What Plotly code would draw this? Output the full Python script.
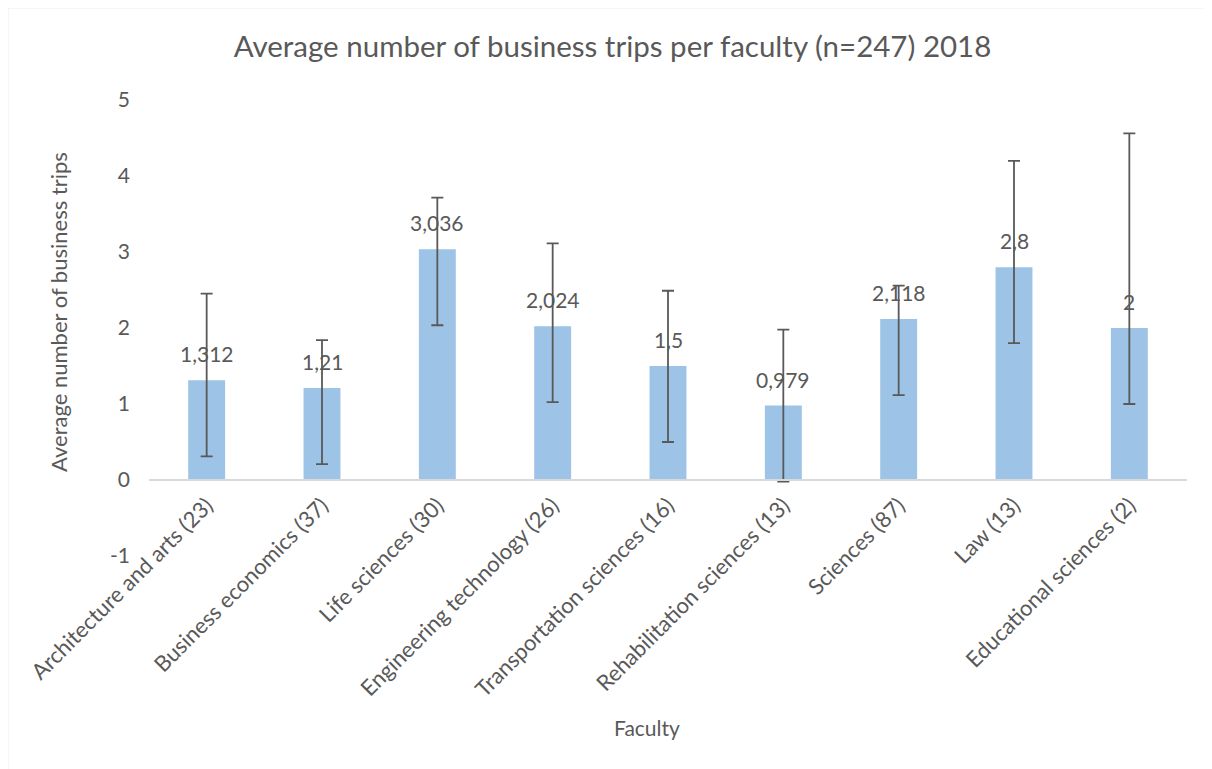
import plotly.graph_objects as go

categories = ["Architecture and arts (23)", "Business economics (37)", "Life sciences (30)",
              "Engineering technology (26)", "Transportation sciences (16)",
              "Rehabilitation sciences (13)", "Sciences (87)", "Law (13)", "Educational sciences (2)"]
averages = [1.312, 1.21, 3.036, 2.024, 1.5, 0.979, 2.118, 2.8, 2.0]
err_plus = [1.14, 0.63, 0.68, 1.09, 0.99, 1.0, 0.44, 1.4, 2.56]
err_minus = [1.0, 1.0, 1.0, 1.0, 1.0, 1.0, 1.0, 1.0, 1.0]
y_ticks = [-1, 0, 1, 2, 3, 4, 5]

labels = [("%g" % v).replace(".", ",") for v in averages]

TXT = "#595959"
FONT = "Lato"

W, H = 1212, 769
OFF = 8  # page body margin
L, R, T, B = 149 - OFF, 1187 - OFF, 100 - OFF, 556 - OFF  # plot area in figure pixels
pw, ph = R - L, B - T

def px(x):
    return (x - OFF - L) / pw

def py(y):
    return (B - (y - OFF)) / ph

fig = go.Figure()
fig.add_trace(go.Bar(
    x=categories, y=averages,
    marker=dict(color="#9DC3E6", line=dict(width=0)),
    error_y=dict(type="data", symmetric=False, array=err_plus, arrayminus=err_minus,
                 color="#595959", thickness=1.8, width=6),
    showlegend=False,
))

annotations = []
for c, v, t in zip(categories, averages, labels):
    annotations.append(dict(x=c, y=v, xref="x", yref="y", text=t, showarrow=False,
                            yanchor="bottom", yshift=12,
                            font=dict(family=FONT, size=21, color=TXT)))
annotations.append(dict(x=px(58), y=py(312), xref="paper", yref="paper",
                        text="Average number of business trips", textangle=-90,
                        showarrow=False, xanchor="center", yanchor="middle",
                        font=dict(family=FONT, size=22, color=TXT)))
annotations.append(dict(x=px(647), y=py(727), xref="paper", yref="paper",
                        text="Faculty", showarrow=False, xanchor="center", yanchor="middle",
                        font=dict(family=FONT, size=21, color=TXT)))

fig.update_layout(
    width=W, height=H,
    margin=dict(l=L, r=W - R, t=T, b=H - B, pad=0),
    paper_bgcolor="white", plot_bgcolor="white",
    bargap=0.68,
    title=dict(text="Average number of business trips per faculty (n=247) 2018",
               x=(612.5 - OFF) / W, xanchor="center", y=1 - (47 - OFF) / H, yanchor="middle",
               font=dict(family=FONT, size=29.5, color=TXT)),
    font=dict(family=FONT, color=TXT),
    annotations=annotations,
    shapes=[dict(type="rect", xref="paper", yref="paper",
                 x0=px(7.5), x1=px(1225), y0=py(785), y1=py(7.5),
                 line=dict(color="#d9d9d9", width=1.5), layer="below")],
)
fig.update_yaxes(range=[-1, 5], tickvals=y_ticks, ticktext=[str(v) for v in y_ticks],
                 showgrid=False, zeroline=False, showline=False, ticks="",
                 ticklabelstandoff=18,
                 tickfont=dict(family=FONT, size=21, color=TXT))
fig.update_xaxes(anchor="free", position=1 / 6, showline=True, linecolor="#d9d9d9",
                 linewidth=2, ticks="", tickangle=-45, showgrid=False,
                 ticklabelstandoff=3,
                 tickfont=dict(family=FONT, size=22, color=TXT))

fig.write_html("out.html")
